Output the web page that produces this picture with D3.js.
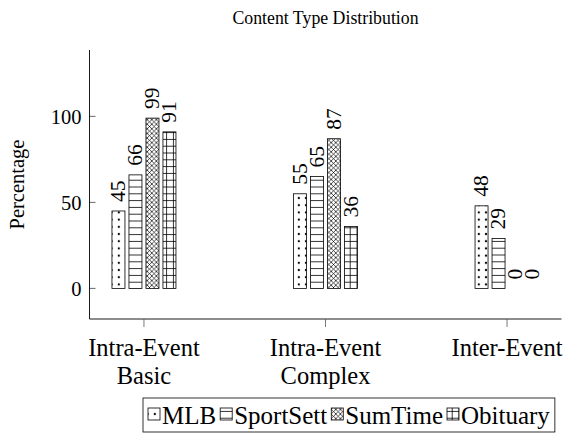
<!DOCTYPE html>
<html><head><meta charset="utf-8">
<script src="https://cdn.jsdelivr.net/npm/d3@7"></script>
</head><body style="margin:0;background:#fff">
<svg id="c" width="563" height="435"></svg>
<script>
const categories = [["Intra-Event","Basic"],["Intra-Event","Complex"],["Inter-Event"]];
const seriesNames = ["MLB","SportSett","SumTime","Obituary"];
const mlb = [45,55,48];
const sportSett = [66,65,29];
const sumTime = [99,87,0];
const obituary = [91,36,0];
const yTicks = [0,50,100];
const title = "Content Type Distribution";
const yLabel = "Percentage";

const seriesValues = [mlb, sportSett, sumTime, obituary];
const patternIds = ["pDots","pHoriz","pCross","pGrid"];
const FONT = '"Liberation Serif"';

const svg = d3.select("#c");
const L = 89.5, R = 561.5, T = 50, B = 319;

const defs = svg.append("defs");
function pat(id, w, h, draw){
  const p = defs.append("pattern").attr("id", id).attr("patternUnits","userSpaceOnUse")
    .attr("width", w).attr("height", h);
  p.append("rect").attr("width", w).attr("height", h).attr("fill","#fff");
  draw(p, w, h);
}
pat("pDots", 7.2, 7.2, (p)=>{ p.append("circle").attr("cx",3.6).attr("cy",3.6).attr("r",1.1).attr("fill","#000"); });
pat("pHoriz", 6.8, 6.8, (p,w,h)=>{ p.append("line").attr("x1",0).attr("x2",w).attr("y1",3.4).attr("y2",3.4).attr("stroke","#000").attr("stroke-width",0.8); });
pat("pCross", 4.6, 4.6, (p,w,h)=>{
  p.append("path").attr("d",`M0,0L${w},${h}M${w},0L0,${h}M-1,1L1,-1M${w-1},${h+1}L${w+1},${h-1}`).attr("stroke","#000").attr("stroke-width",0.7);
});
pat("pGrid", 6.8, 6.8, (p,w,h)=>{
  p.append("path").attr("d",`M0,3.4H${w}M3.4,0V${h}`).attr("stroke","#000").attr("stroke-width",0.8);
});

const x0 = d3.scalePoint().domain(d3.range(categories.length)).range([L, R]).padding(0.3);
const x1 = d3.scaleBand().domain(seriesNames).range([-34, 34]).paddingInner(4/17).paddingOuter(2/17);
const y = d3.scaleLinear().domain([-17.8, 138.6]).range([B, T]);

function txt(sel){ return sel.append("text").style("font-family", FONT).attr("fill","#000"); }

txt(svg).attr("x", (L+R)/2).attr("y", 24).attr("text-anchor","middle")
  .attr("font-size", 17.8).text(title);

txt(svg).attr("transform", `translate(24,${(T+B)/2}) rotate(-90)`)
  .attr("text-anchor","middle").attr("font-size", 20.5).text(yLabel);

svg.append("path").attr("d", `M${L},${T}V${B}H${R}`).attr("fill","none").attr("stroke","#000").attr("stroke-width",0.9);

const yAxis = svg.append("g");
yTicks.forEach(t=>{
  yAxis.append("line").attr("x1", L).attr("x2", L+6).attr("y1", y(t)).attr("y2", y(t)).attr("stroke","#000").attr("stroke-width",0.6);
  txt(yAxis).attr("x", L-8).attr("y", y(t)).attr("dy","0.35em").attr("text-anchor","end").attr("font-size",20.5).text(t);
});

categories.forEach((c,i)=>{
  const cx = x0(i);
  svg.append("line").attr("x1",cx).attr("x2",cx).attr("y1",B).attr("y2",B+8).attr("stroke","#555").attr("stroke-width",0.8);
  c.forEach((line,j)=>{
    txt(svg).attr("x",cx).attr("y",356 + j*28).attr("text-anchor","middle").attr("font-size",24.5).text(line);
  });
});

seriesNames.forEach((s,si)=>{
  const g = svg.append("g");
  seriesValues[si].forEach((v,ci)=>{
    const bx = x0(ci) + x1(s);
    const bw = x1.bandwidth();
    g.append("rect").attr("x", bx).attr("y", y(Math.max(v,0))).attr("width", bw)
      .attr("height", Math.abs(y(0)-y(v))).attr("fill", `url(#${patternIds[si]})`)
      .attr("stroke","#000").attr("stroke-width",0.8);
    txt(g).attr("transform", `translate(${bx+bw/2-1},${y(v)-9}) rotate(-90)`)
      .attr("dy","0.35em").attr("text-anchor","start").attr("font-size",21.5).text(v);
  });
});

const lg = svg.append("g");
const ly0 = 398, ly1 = 432;
let cur = 148;
const lx0 = 143;
seriesNames.forEach((s,si)=>{
  lg.append("rect").attr("x", cur).attr("y", 408).attr("width", 12).attr("height", 12)
    .attr("fill", `url(#${patternIds[si]})`).attr("stroke","#000").attr("stroke-width",0.8);
  const t = txt(lg).attr("x", cur+14).attr("y", 423.5).attr("font-size",25).text(s);
  const w = t.node().getComputedTextLength();
  cur = cur + 14 + w + 4;
});
lg.insert("rect", ":first-child").attr("x", lx0).attr("y", ly0).attr("width", cur - lx0 + 1).attr("height", ly1-ly0)
  .attr("fill","#fff").attr("stroke","#000").attr("stroke-width",0.8);
</script>
</body></html>
